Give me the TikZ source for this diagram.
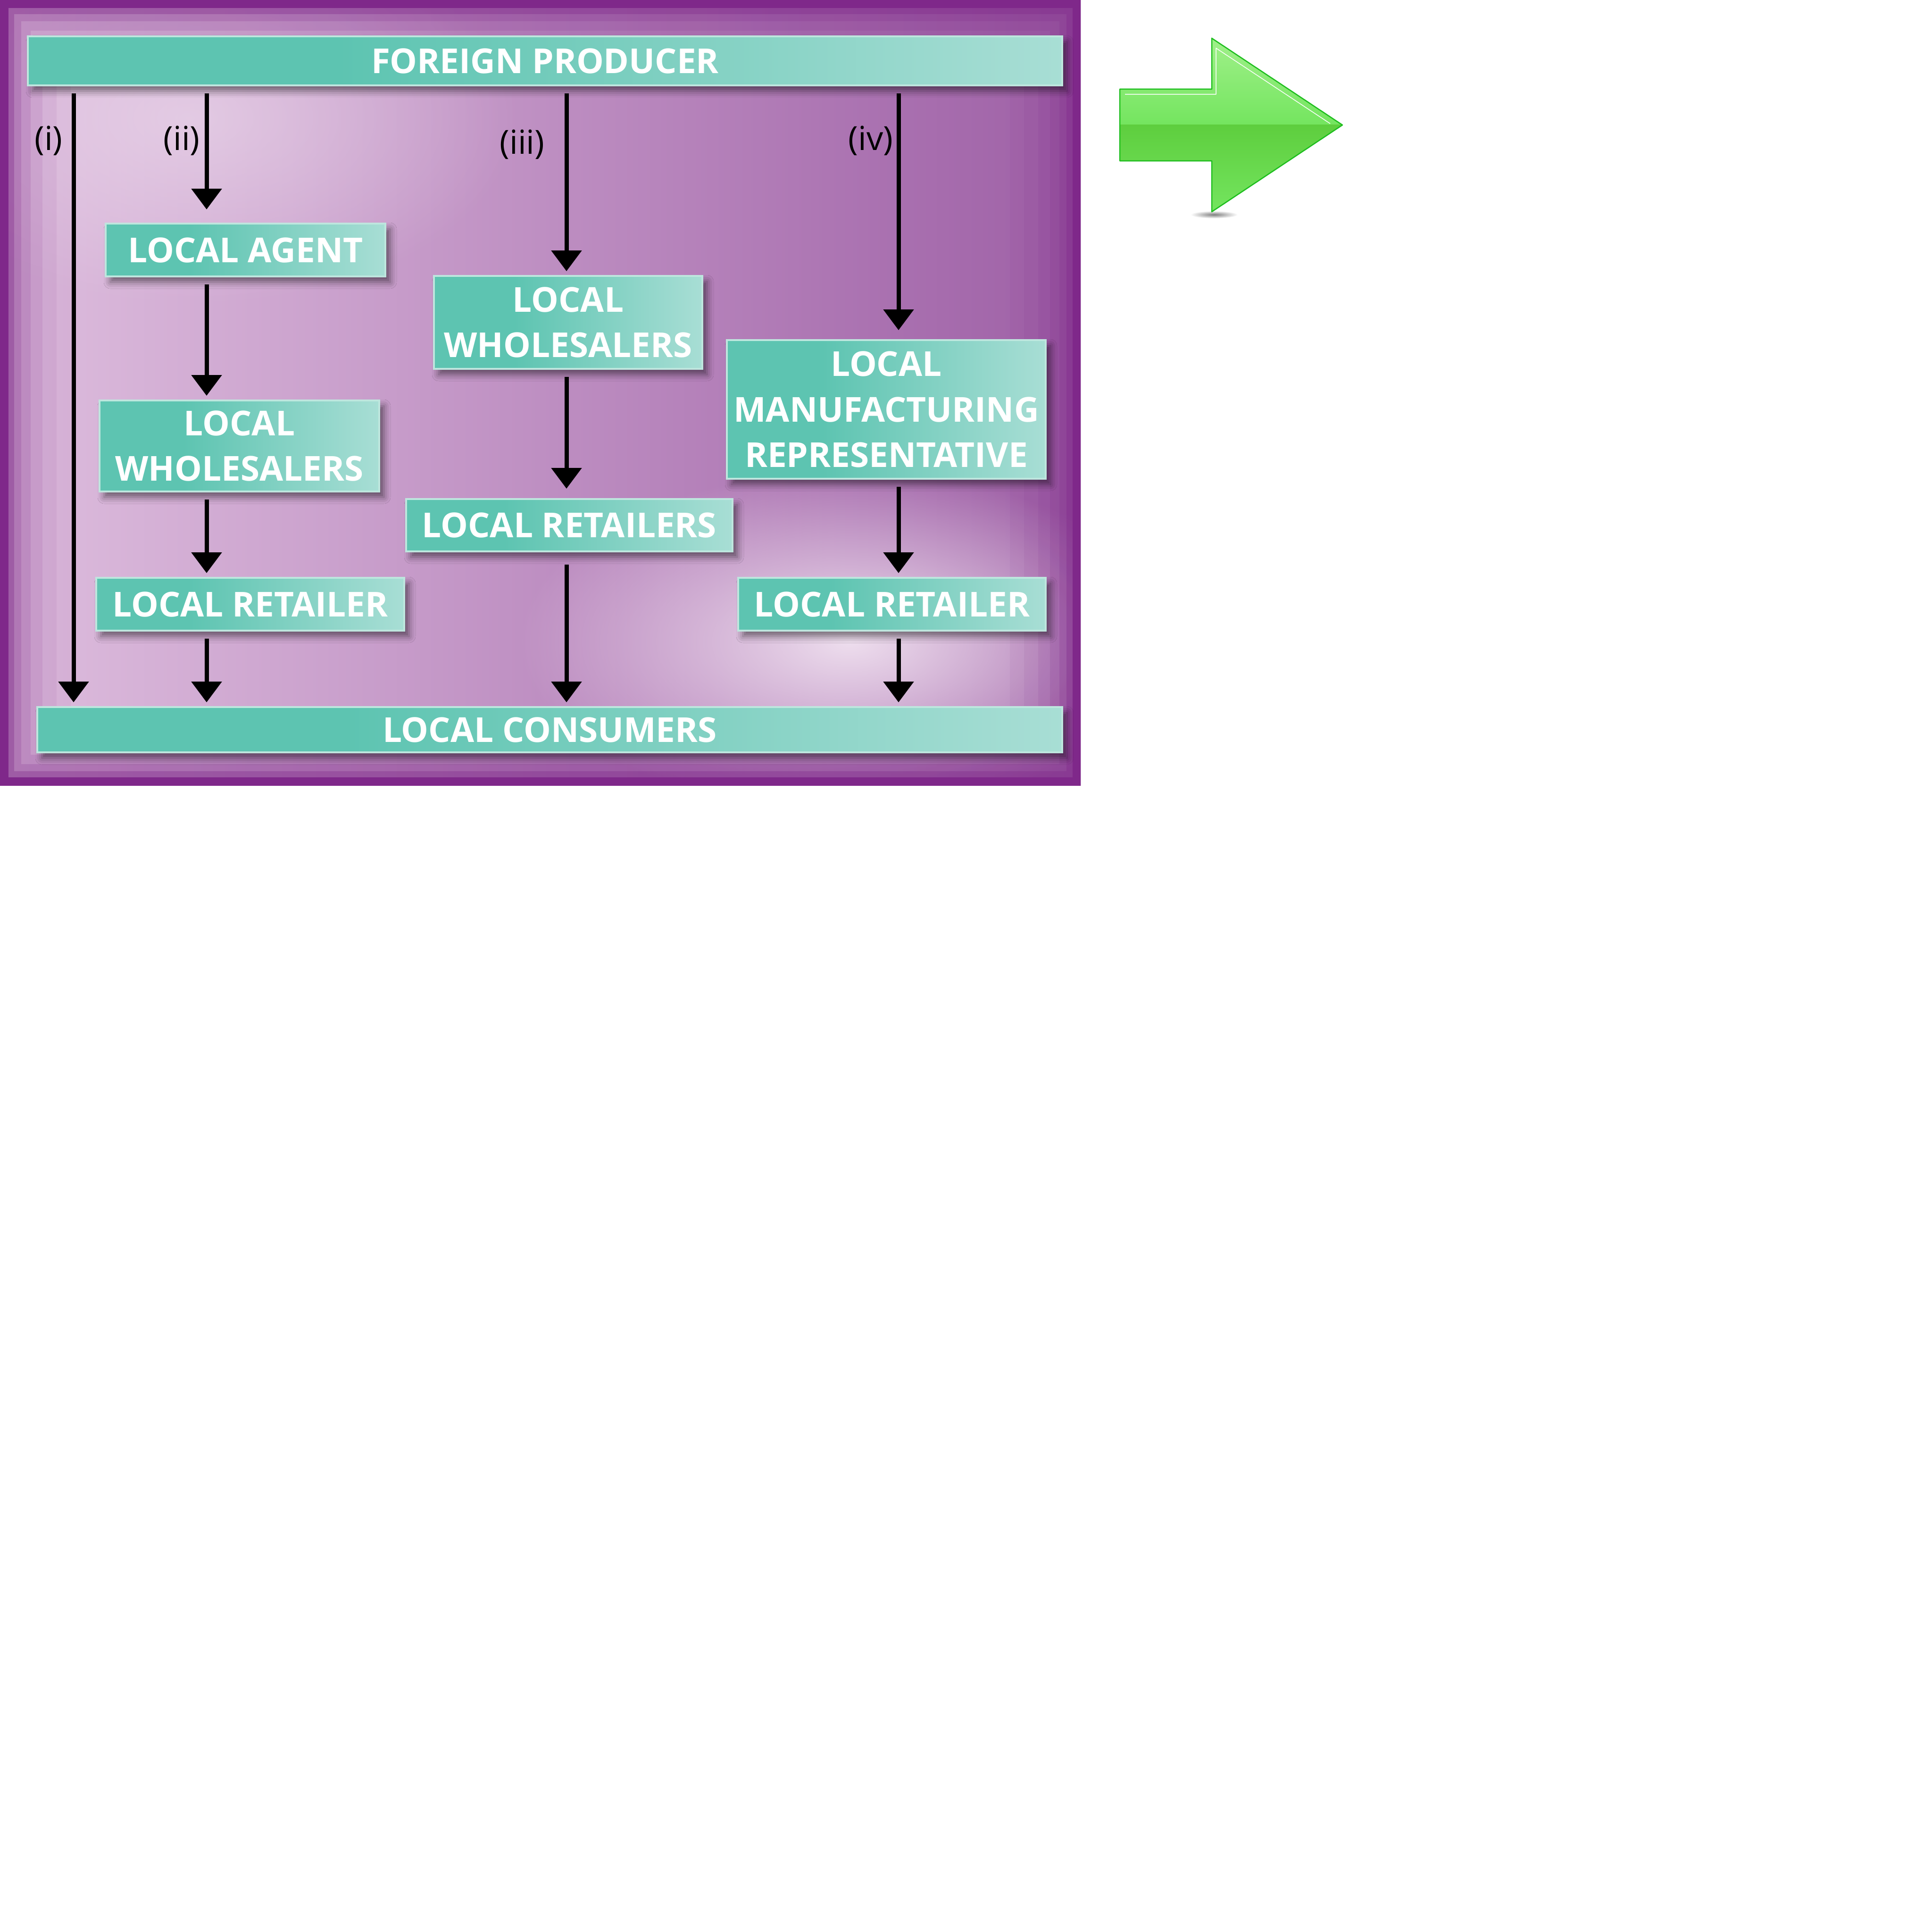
\documentclass[tikz,border=0pt]{standalone}
\usepackage{fontspec}
\setsansfont{Open Sans}
\usetikzlibrary{arrows.meta,shadows.blur,fadings}

\definecolor{paneledge}{RGB}{127,40,138}
\definecolor{panellight}{RGB}{222,190,222}
\definecolor{paneldark}{RGB}{158,96,166}
\definecolor{panelglow}{RGB}{238,222,238}
\definecolor{boxteal}{RGB}{93,196,177}
\definecolor{boxmint}{RGB}{200,233,228}
\definecolor{boxedge}{RGB}{190,230,222}
\definecolor{arrowedge}{RGB}{30,190,30}
\definecolor{arrowlight}{RGB}{160,240,138}
\definecolor{arrowmid}{RGB}{116,229,95}
\definecolor{arrowdark}{RGB}{94,206,62}

\pgfdeclarehorizontalshading{boxshade}{100bp}{color(0bp)=(boxteal!80!white); color(8bp)=(boxteal); color(40bp)=(boxteal); color(90bp)=(boxmint); color(100bp)=(boxmint)}
\tikzfading[name=softspot, inner color=transparent!0, outer color=transparent!100]

\def\greenarrow{(23.74,-1.89) -- (25.69,-1.89) -- (25.69,-0.81) -- (28.46,-2.65) -- (25.69,-4.49) -- (25.69,-3.41) -- (23.74,-3.41) -- cycle}

\tikzset{
	chbox/.style={draw=boxedge, line width=0.04cm, shading=boxshade,
		blur shadow={shadow xshift=0.1cm, shadow yshift=-0.12cm, shadow blur radius=0.14cm, shadow opacity=50},
		text=white, font=\sffamily\bfseries\fontsize{20.7}{27.5}\selectfont, align=center, inner sep=0pt},
	flow/.style={line width=0.09cm, -{Triangle[width=0.63cm,length=0.44cm]}, shorten <=0.15cm, shorten >=0.08cm},
	route/.style={font=\sffamily\fontsize{20}{24}\selectfont, text=black},
	rim/.style={draw=paneledge, line width=#1},
}

\begin{document}
\begin{tikzpicture}
		%%%%% START %%%%%
		\useasboundingbox (0,0) rectangle (40.96,-40.96);
		
		% panel
		\begin{scope}
			\clip (0,0) rectangle (22.91,-16.65);
			\shade[left color=panellight, right color=paneldark] (0,0) rectangle (22.91,-16.65);
			\fill[panelglow, path fading=softspot] (18,-13.6) ellipse (7 and 3.6);
			\fill[panelglow, opacity=0.6, path fading=softspot] (4,-2.5) ellipse (7 and 4);
			\draw[rim=3.0cm, opacity=0.05] (0,0) rectangle (22.91,-16.65);
			\draw[rim=2.4cm, opacity=0.07] (0,0) rectangle (22.91,-16.65);
			\draw[rim=1.8cm, opacity=0.1] (0,0) rectangle (22.91,-16.65);
			\draw[rim=1.3cm, opacity=0.14] (0,0) rectangle (22.91,-16.65);
			\draw[rim=0.9cm, opacity=0.2] (0,0) rectangle (22.91,-16.65);
			\draw[rim=0.6cm, opacity=0.35] (0,0) rectangle (22.91,-16.65);
			\draw[rim=0.35cm] (0,0) rectangle (22.91,-16.65);
		\end{scope}
		
		% channels
		\node[chbox, minimum width=21.93cm, minimum height=1.04cm] (fp) at (11.555,-1.29) {FOREIGN PRODUCER};
		\node[chbox, minimum width=5.93cm, minimum height=1.12cm] (agent) at (5.205,-5.30) {LOCAL AGENT};
		\node[chbox, minimum width=5.93cm, minimum height=1.93cm] (wsL) at (5.075,-9.455) {LOCAL\\WHOLESALERS};
		\node[chbox, minimum width=6.53cm, minimum height=1.12cm] (retL) at (5.305,-12.81) {LOCAL RETAILER};
		\node[chbox, minimum width=5.69cm, minimum height=1.97cm] (wsM) at (12.045,-6.835) {LOCAL\\WHOLESALERS};
		\node[chbox, minimum width=6.92cm, minimum height=1.11cm] (retM) at (12.07,-11.135) {LOCAL RETAILERS};
		\node[chbox, minimum width=6.76cm, minimum height=2.94cm] (manuf) at (18.79,-8.68) {LOCAL\\MANUFACTURING\\REPRESENTATIVE};
		\node[chbox, minimum width=6.52cm, minimum height=1.12cm] (retR) at (18.91,-12.81) {LOCAL RETAILER};
		\node[chbox, minimum width=21.73cm, minimum height=0.96cm] (cons) at (11.655,-15.47) {LOCAL CONSUMERS};
		
		\coordinate (c1) at (1.56,0);
		\coordinate (c2) at (4.38,0);
		\coordinate (c3) at (12.01,0);
		\coordinate (c4) at (19.05,0);
		
		\node[route] (lab1) at (1.03,-2.98) {(i)};
		\node[route] (lab2) at (3.85,-2.98) {(ii)};
		\node[route] (lab3) at (11.07,-3.06) {(iii)};
		\node[route] (lab4) at (18.46,-2.98) {(iv)};
		
		\draw[flow] (fp.south -| c1) -- (cons.north -| c1);
		
		\draw[flow, shorten >=0.28cm] (fp.south -| c2) -- (agent.north -| c2);
		\draw[flow] (agent.south -| c2) -- (wsL.north -| c2);
		\draw[flow] (wsL.south -| c2) -- (retL.north -| c2);
		\draw[flow] (retL.south -| c2) -- (cons.north -| c2);
		
		\draw[flow] (fp.south -| c3) -- (wsM.north -| c3);
		\draw[flow, shorten >=0.2cm] (wsM.south -| c3) -- (retM.north -| c3);
		\draw[flow, shorten <=0.26cm] (retM.south -| c3) -- (cons.north -| c3);
		
		\draw[flow, shorten >=0.19cm] (fp.south -| c4) -- (manuf.north -| c4);
		\draw[flow] (manuf.south -| c4) -- (retR.north -| c4);
		\draw[flow] (retR.south -| c4) -- (cons.north -| c4);
		
		% green arrow
		\fill[black!50, path fading=softspot] (25.74,-4.55) ellipse (0.5 and 0.08);
		\begin{scope}
			\clip \greenarrow;
			\shade[top color=arrowlight, bottom color=arrowmid] (23.7,-0.8) rectangle (28.5,-2.65);
			\shade[top color=arrowdark, bottom color=arrowmid] (23.7,-2.65) rectangle (28.5,-4.5);
		\end{scope}
		\draw[arrowedge, line width=0.025cm, line join=round] \greenarrow;
		\draw[white, line width=0.015cm, line join=round] (23.85,-2.0) -- (25.78,-2.0) -- (25.78,-1.02) -- (28.2,-2.62);
		
		%%%%% END %%%%%
	\end{tikzpicture}
\end{document}
